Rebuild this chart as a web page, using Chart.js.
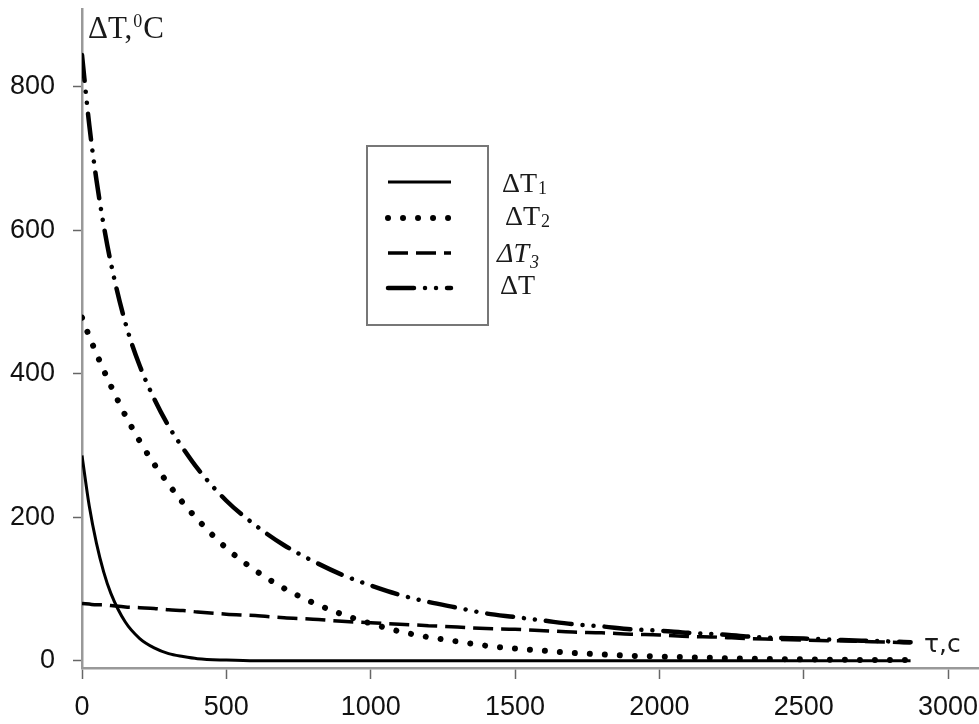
<!DOCTYPE html>
<html>
<head>
<meta charset="utf-8">
<script src="https://cdn.jsdelivr.net/npm/chart.js@4.4.1/dist/chart.umd.min.js"></script>
<style>
html, body { margin: 0; padding: 0; background: #fff; }
#wrap { width: 979px; height: 724px; }
</style>
</head>
<body>
<div id="wrap"><canvas id="coolingChart" width="979" height="724"></canvas></div>
<script>
// time, s
var tau = [0, 25, 50, 75, 100, 150, 200, 250, 300, 350, 400, 500, 600, 700, 800, 900, 1000,
    1100, 1200, 1300, 1400, 1500, 1600, 1700, 1800, 1900, 2000, 2100, 2200, 2300, 2400, 2500,
    2600, 2700, 2800, 2870];
// temperature differences, deg C
var dT1 = [286, 216, 164, 124, 94, 54, 31, 18, 10, 6, 3, 1, 0, 0, 0, 0, 0,
    0, 0, 0, 0, 0, 0, 0, 0, 0, 0, 0, 0, 0, 0, 0,
    0, 0, 0, 0];
var dT2 = [478, 452, 428, 405, 383, 342, 306, 274, 246, 220, 197, 157, 126, 101, 81, 65, 52,
    41, 33, 27, 21, 17, 14, 11, 9, 7, 6, 5, 4, 3, 2.4, 2,
    1.5, 1.2, 1, 1];
var dT3 = [80, 79, 78, 78, 77, 75, 74, 73, 71, 70, 68, 65, 63, 60, 58, 55, 53,
    51, 49, 47, 45, 44, 42, 40, 39, 37, 36, 34, 33, 31, 30, 29,
    28, 27, 26, 25];
var dT = [844, 747, 670, 607, 554, 471, 411, 365, 327, 296, 268, 223, 189, 161, 139, 120, 105,
    92, 82, 74, 66, 61, 56, 51, 48, 44, 42, 39, 37, 34, 32, 31,
    29.5, 28, 27, 26];

var xTicks = [0, 500, 1000, 1500, 2000, 2500, 3000];
var yTicks = [0, 200, 400, 600, 800];

function pts(arr) {
    return tau.map((t, i) => ({ x: t, y: arr[i] }));
}

var legendItems = [
    { main: 'ΔT', sub: '1', x: 502, y: 192, italic: false },
    { main: 'ΔT', sub: '2', x: 505, y: 225, italic: false },
    { main: 'ΔT', sub: '3', x: 497, y: 262, italic: true },
    { main: 'ΔT', sub: '', x: 500, y: 294, italic: false }
];
var legendRows = [182, 218, 253, 288];

var annotations = {
    id: 'annotations',
    afterDraw: function(chart) {
        var ctx = chart.ctx;
        ctx.save();
        ctx.fillStyle = '#1a1a1a';
        ctx.textBaseline = 'alphabetic';
        ctx.textAlign = 'left';

        // y axis title
        ctx.font = '31px "Liberation Serif"';
        ctx.fillText('ΔT,', 88, 38);
        var w = ctx.measureText('ΔT,').width;
        ctx.font = '18px "Liberation Serif"';
        ctx.fillText('0', 88 + w + 1, 27);
        var w2 = ctx.measureText('0').width;
        ctx.font = '31px "Liberation Serif"';
        ctx.fillText('C', 88 + w + w2 + 2, 38);

        // x axis title
        ctx.font = '25px "DejaVu Sans"';
        ctx.fillText('τ,c', 924, 652);

        // legend box
        ctx.strokeStyle = '#777';
        ctx.lineWidth = 2;
        ctx.strokeRect(367, 146, 121, 179);

        chart.data.datasets.forEach(function(ds, i) {
            ctx.save();
            ctx.strokeStyle = ds.borderColor;
            ctx.lineWidth = ds.borderWidth;
            ctx.lineCap = ds.borderCapStyle || 'butt';
            ctx.setLineDash(ds.borderDash || []);
            ctx.beginPath();
            ctx.moveTo(388, legendRows[i]);
            ctx.lineTo(451, legendRows[i]);
            ctx.stroke();
            ctx.restore();
        });

        legendItems.forEach(function(it) {
            var style = it.italic ? 'italic ' : '';
            ctx.font = style + '28px "Liberation Serif"';
            ctx.fillText(it.main, it.x, it.y);
            var mw = ctx.measureText(it.main).width;
            if (it.sub) {
                ctx.font = style + '18px "Liberation Serif"';
                ctx.fillText(it.sub, it.x + mw + 1, it.y + (it.italic ? 6 : 2));
            }
        });
        ctx.restore();
    }
};

var ctx = document.getElementById('coolingChart').getContext('2d');
var chart = new Chart(ctx, {
    type: 'line',
    data: {
        datasets: [{
            label: 'ΔT1',
            data: pts(dT1),
            borderColor: '#000',
            borderWidth: 3,
            pointRadius: 0,
            fill: false,
            cubicInterpolationMode: 'monotone'
        }, {
            label: 'ΔT2',
            data: pts(dT2),
            borderColor: '#000',
            borderWidth: 6,
            borderCapStyle: 'round',
            borderDash: [0.01, 15],
            pointRadius: 0,
            fill: false,
            cubicInterpolationMode: 'monotone'
        }, {
            label: 'ΔT3',
            data: pts(dT3),
            borderColor: '#000',
            borderWidth: 3.5,
            borderDash: [20, 8],
            pointRadius: 0,
            fill: false,
            cubicInterpolationMode: 'monotone'
        }, {
            label: 'ΔT',
            data: pts(dT),
            borderColor: '#000',
            borderWidth: 4.5,
            borderCapStyle: 'round',
            borderDash: [26, 11, 0.01, 11, 0.01, 11],
            pointRadius: 0,
            fill: false,
            cubicInterpolationMode: 'monotone'
        }]
    },
    options: {
        responsive: false,
        animation: false,
        layout: { padding: { top: 9, right: 0, left: 0, bottom: 0 } },
        plugins: { legend: { display: false }, tooltip: { enabled: false } },
        scales: {
            x: {
                type: 'linear',
                min: 0,
                max: 3107,
                afterFit: function(scale) {
                    scale.height = 56;
                    scale.paddingLeft = 0;
                    scale.paddingRight = 0;
                },
                afterBuildTicks: function(scale) {
                    scale.ticks = xTicks.map(v => ({ value: v }));
                },
                grid: { drawOnChartArea: false, drawTicks: true, tickLength: 11, tickColor: '#666', tickWidth: 1.5 },
                border: { color: '#999', width: 2.5 },
                ticks: {
                    padding: 12,
                    maxRotation: 0,
                    color: '#111',
                    font: { family: 'Liberation Sans', size: 27 },
                    callback: v => String(v)
                }
            },
            y: {
                min: -10,
                max: 908,
                afterFit: function(scale) {
                    scale.width = 82;
                    scale.paddingTop = 0;
                    scale.paddingBottom = 0;
                },
                afterBuildTicks: function(scale) {
                    scale.ticks = yTicks.map(v => ({ value: v }));
                },
                grid: { drawOnChartArea: false, drawTicks: true, tickLength: 9, tickColor: '#666', tickWidth: 1.5 },
                border: { color: '#999', width: 2.5 },
                ticks: {
                    padding: 18,
                    color: '#111',
                    font: { family: 'Liberation Sans', size: 27 },
                    callback: v => String(v)
                }
            }
        }
    },
    plugins: [annotations]
});
</script>
</body>
</html>
